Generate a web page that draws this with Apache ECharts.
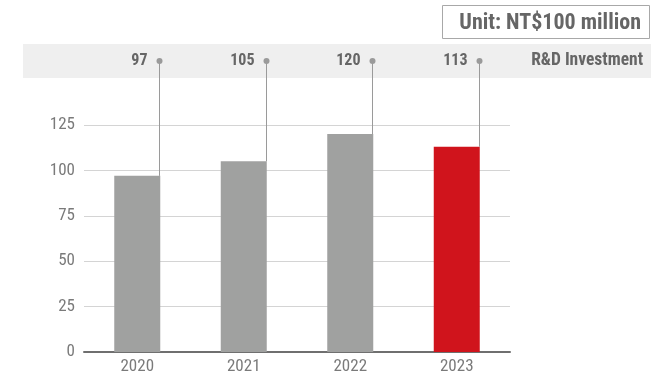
<!DOCTYPE html>
<html>
<head>
<meta charset="utf-8">
<script src="https://cdn.jsdelivr.net/npm/echarts@6/dist/echarts.min.js"></script>
<style>
  html, body { margin: 0; padding: 0; background: #fff; }
  #chart { width: 666px; height: 376px; }
</style>
</head>
<body>
<div id="chart"></div>
<script>
// R&D investment by year (NT$100 million)
const years = ['2020', '2021', '2022', '2023'];
const investment = [97, 105, 120, 113];
const yTicks = [0, 25, 50, 75, 100, 125];
const seriesName = 'R&D Investment';
const unitText = 'Unit: NT$100 million';

const FONT = '"Liberation Sans Narrow", "Roboto Condensed", "Liberation Sans", sans-serif';
const BAR_GREY = '#a0a1a0';
const BAR_RED = '#d0141c';
const BAND_Y = 61;

const chart = echarts.init(document.getElementById('chart'), null, { renderer: 'canvas' });

chart.setOption({
  animation: false,
  backgroundColor: '#fff',
  grid: { left: 84, right: 156, top: 125, bottom: 24 },
  xAxis: {
    type: 'category',
    data: years,
    axisLine: { show: true, lineStyle: { color: '#6f6f6f', width: 2 } },
    axisTick: { show: false },
    axisLabel: { color: '#7a7a7a', fontFamily: FONT, fontSize: 17, margin: 6 }
  },
  yAxis: {
    type: 'value',
    min: yTicks[0],
    max: yTicks[yTicks.length - 1],
    interval: yTicks[1] - yTicks[0],
    axisLine: { show: false },
    axisTick: { show: false },
    splitLine: { lineStyle: { color: '#d4d4d4', width: 1 } },
    axisLabel: { color: '#7a7a7a', fontFamily: FONT, fontSize: 17, margin: 9 }
  },
  graphic: [
    // header band behind the value labels
    { type: 'rect', z: -10, shape: { x: 23, y: 44, width: 628, height: 34 }, style: { fill: '#efefef' } },
    { type: 'text', z: 10, style: { x: 643, y: BAND_Y, text: seriesName, align: 'right', verticalAlign: 'middle',
        fill: '#666', font: 'bold 17.5px ' + FONT } },
    // unit box
    { type: 'rect', shape: { x: 442.5, y: 5.5, width: 207, height: 33 }, style: { fill: '#fff', stroke: '#a8a8a8', lineWidth: 1 } },
    { type: 'text', style: { x: 641, y: 23, text: unitText, align: 'right', verticalAlign: 'middle',
        fill: '#666', font: 'bold 22px ' + FONT } }
  ],
  series: [
    {
      name: seriesName,
      type: 'bar',
      barWidth: 46,
      z: 2,
      data: investment.map((v, i) => ({
        value: v,
        itemStyle: { color: i === investment.length - 1 ? BAR_RED : BAR_GREY }
      }))
    },
    {
      // leader lines from the header band down to each bar, with the value label
      type: 'custom',
      z: 3,
      clip: false,
      data: investment.map((v, i) => [i, v]),
      renderItem: function (params, api) {
        const top = api.coord([api.value(0), api.value(1)]);
        const x = Math.round(top[0] + 23) - 0.5;
        return {
          type: 'group',
          children: [
            { type: 'line', shape: { x1: x, y1: BAND_Y, x2: x, y2: top[1] },
              style: { stroke: '#9a9a9a', lineWidth: 1 } },
            { type: 'circle', shape: { cx: x, cy: BAND_Y, r: 3 }, style: { fill: '#9a9a9a' } },
            { type: 'text', style: { x: x - 12, y: BAND_Y, text: String(api.value(1)),
                align: 'right', verticalAlign: 'middle', fill: '#666', font: 'bold 16px ' + FONT } }
          ]
        };
      }
    }
  ]
});
</script>
</body>
</html>
